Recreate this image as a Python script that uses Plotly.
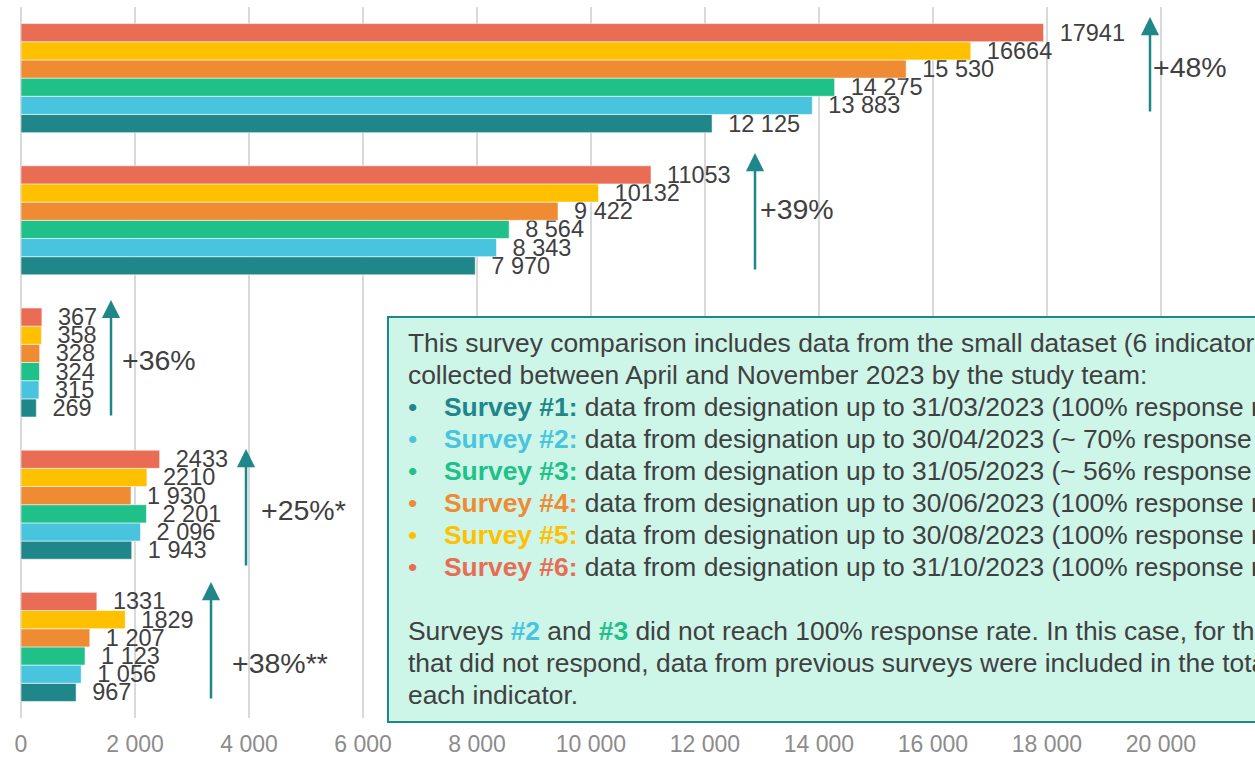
import plotly.graph_objects as go

# ---------------- data ----------------
CATEGORIES = ["Indicator 1", "Indicator 2", "Indicator 3", "Indicator 4", "Indicator 5"]  # top to bottom
SURVEYS = ["Survey #1", "Survey #2", "Survey #3", "Survey #4", "Survey #5", "Survey #6"]
SURVEY_1 = [12125, 7970, 269, 1943, 967]
SURVEY_2 = [13883, 8343, 315, 2096, 1056]
SURVEY_3 = [14275, 8564, 324, 2201, 1123]
SURVEY_4 = [15530, 9422, 328, 1930, 1207]
SURVEY_5 = [16664, 10132, 358, 2210, 1829]
SURVEY_6 = [17941, 11053, 367, 2433, 1331]
SEPARATED_LABELS = [True, True, True, True, False, False]
GROWTH = ["+48%", "+39%", "+36%", "+25%*", "+38%**"]
SURVEY_DATES = ["31/03/2023", "30/04/2023", "31/05/2023", "30/06/2023", "30/08/2023", "31/10/2023"]
RESPONSE_RATES = ["100%", "~ 70%", "~ 56%", "100%", "100%", "100%"]

COLORS = ["#1F868A", "#48C4DE", "#20C089", "#EE8B33", "#FFC000", "#E96C55"]
TEXT = "#404040"
FONT = "Arial, Liberation Sans, sans-serif"

W, H = 1255, 759
ML, MR, MT, MB = 21, 0, 7, 41
XMAX = 21650
PW, PH = W - ML - MR, H - MT - MB


def px_to_x(px):
    return (px - ML) / PW * XMAX


def px_to_xp(px):
    return (px - ML) / PW


def py_to_yp(py):
    return (H - MB - py) / PH


def fmt(v, sep):
    s = f"{v:,}".replace(",", " ") if sep else str(v)
    return "\u00a0\u00a0" + s


series = [SURVEY_1, SURVEY_2, SURVEY_3, SURVEY_4, SURVEY_5, SURVEY_6]

fig = go.Figure()
for name, vals, col, sep in zip(SURVEYS, series, COLORS, SEPARATED_LABELS):
    fig.add_trace(go.Bar(
        y=CATEGORIES, x=vals, orientation="h", name=name,
        marker=dict(color=col, line=dict(color="rgba(255,255,255,0.55)", width=1)),
        text=[fmt(v, sep) for v in vals],
        textposition="outside", constraintext="none", cliponaxis=False,
        outsidetextfont=dict(family=FONT, size=23.5, color=TEXT),
        hoverinfo="x+name",
    ))

annotations = []
shapes = []

# growth arrows + labels
arrows = [  # x_px, tip_y, tail_y, label_left_px, label_y
    (1150, 17, 113, 1151, 67),
    (755, 153, 271, 758, 209),
    (111, 300, 417, 120, 360),
    (246, 449, 567, 259, 510),
    (211, 582, 700, 230, 663),
]
for g, (axp, tip, tail, lx, ly) in zip(GROWTH, arrows):
    annotations.append(dict(
        x=px_to_x(axp), xref="x", y=py_to_yp(tip), yref="paper",
        ax=0, ay=tail - tip, showarrow=True, text="",
        arrowhead=2, arrowsize=1.45, arrowwidth=2.5, arrowcolor="#1F868A", standoff=0,
    ))
    annotations.append(dict(
        x=px_to_xp(lx), xref="paper", y=py_to_yp(ly), yref="paper",
        xanchor="left", yanchor="middle", showarrow=False, text=g,
        font=dict(family=FONT, size=28.5, color=TEXT),
    ))

# info box
shapes.append(dict(
    type="rect", xref="paper", yref="paper",
    x0=px_to_xp(388), x1=1.2, y0=py_to_yp(722), y1=py_to_yp(317),
    fillcolor="#CDF5E8", line=dict(color="#1F868A", width=2), layer="above",
))

BOX_FS = 26.4
lines = [
    (406, 343, "This survey comparison includes data from the small dataset (6 indicators)"),
    (406, 375, "collected between April and November 2023 by the study team:"),
]
for i, (sname, d, r) in enumerate(zip(SURVEYS, SURVEY_DATES, RESPONSE_RATES)):
    y = 407 + 32 * i
    annotations.append(dict(
        x=px_to_xp(406), xref="paper", y=py_to_yp(y), yref="paper",
        xanchor="left", yanchor="middle", showarrow=False, text="•",
        font=dict(family=FONT, size=BOX_FS, color=COLORS[i]),
    ))
    lines.append((442, y,
                  f"<b><span style='color:{COLORS[i]}'>{sname}:</span></b> "
                  f"data from designation up to {d} ({r} response rate)"))
lines += [
    (406, 631, f"Surveys <b><span style='color:{COLORS[1]}'>#2</span></b> and "
               f"<b><span style='color:{COLORS[2]}'>#3</span></b> did not reach 100% response rate. In this case, for the"),
    (406, 663, "that did not respond, data from previous surveys were included in the total for"),
    (406, 695, "each indicator."),
]
for lx, ly, t in lines:
    annotations.append(dict(
        x=px_to_xp(lx), xref="paper", y=py_to_yp(ly), yref="paper",
        xanchor="left", yanchor="middle", showarrow=False, text=t,
        font=dict(family=FONT, size=BOX_FS, color=TEXT),
    ))

fig.update_layout(
    width=W, height=H,
    margin=dict(l=ML, r=MR, t=MT, b=MB, pad=0),
    barmode="group", bargap=0.233, bargroupgap=0,
    showlegend=False,
    plot_bgcolor="white", paper_bgcolor="white",
    separators=", ",
    font=dict(family=FONT, color=TEXT),
    xaxis=dict(
        range=[0, XMAX], tick0=0, dtick=2000, tickformat=",d", separatethousands=True,
        showgrid=True, gridcolor="#D9D9D9", gridwidth=1.5,
        zeroline=True, zerolinecolor="#D9D9D9", zerolinewidth=1.5,
        showline=False, ticks="", ticklabelstandoff=10,
        tickfont=dict(family=FONT, size=23, color="#8C8C8C"),
    ),
    yaxis=dict(
        categoryorder="array", categoryarray=list(reversed(CATEGORIES)),
        showticklabels=False, showgrid=False, zeroline=False, showline=False,
    ),
    annotations=annotations,
    shapes=shapes,
)

fig.write_html(
    "out.html",
    config={"displayModeBar": False},
    post_script="document.body.style.margin='0';document.body.style.overflow='hidden';",
)
